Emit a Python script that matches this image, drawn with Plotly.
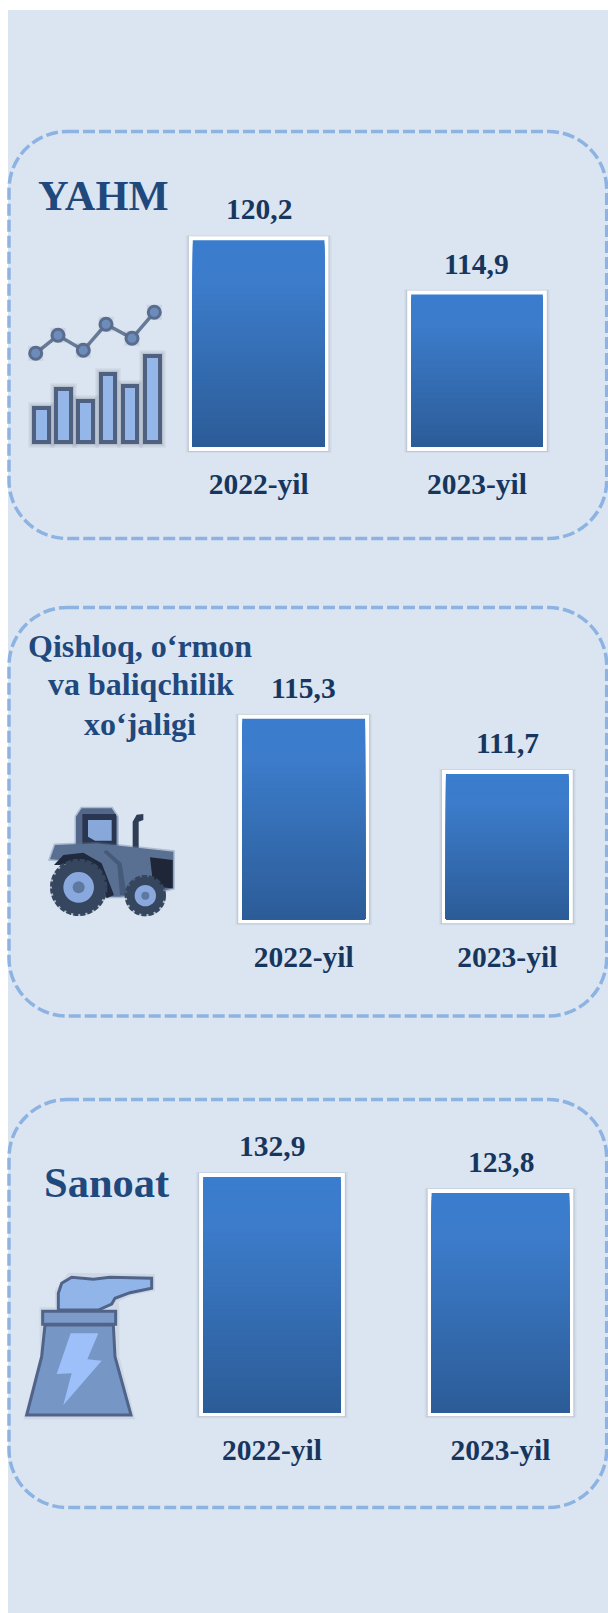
import plotly.graph_objects as go

# ---- data ----
years = ["2022-yil", "2023-yil"]
yahm_values = [120.2, 114.9]
qishloq_values = [115.3, 111.7]
sanoat_values = [132.9, 123.8]
yahm_title = ["YAHM"]
qishloq_title = ["Qishloq, o‘rmon", "va baliqchilik", "xo‘jaligi"]
sanoat_title = ["Sanoat"]

W, H = 608, 1613
FONT = "Liberation Serif"
DARK = "#17365D"
TITLE = "#1F497D"


def X(px):
    return px / W


def Y(py):
    return 1 - py / H


def path(cmds):
    out = []
    for c in cmds:
        if isinstance(c, str):
            out.append(c)
        else:
            out.append(f"{X(c[0]):.5f},{Y(c[1]):.5f}")
    return " ".join(out)


panels = [
    dict(v=yahm_values, s="", c0=258.65, sep=218.35, y0=447.0, k=10.23, lo=100.0, hi=122.0, rr=1.45),
    dict(v=qishloq_values, s="2", c0=303.65, sep=203.7, y0=919.3, k=15.36, lo=102.24, hi=117.0, rr=1.4),
    dict(v=sanoat_values, s="3", c0=272.0, sep=228.5, y0=1412.3, k=1.7705, lo=0.0, hi=140.0, rr=1.4),
]

STOPS = [(0.0, (58, 124, 205)), (0.2, (60, 124, 203)), (1.0, (44, 92, 152))]


def grad(t):
    for (a, ca), (b, cb) in zip(STOPS, STOPS[1:]):
        if t <= b:
            f = (t - a) / (b - a)
            return "rgb(%d,%d,%d)" % tuple(round(p + (q - p) * f) for p, q in zip(ca, cb))
    return "rgb(44,92,152)"


fig = go.Figure()
BAR_W = 0.603
N = 64
PAD = 8  # pixels of axis below the bars' base, so the white frame has room
annotations = []
layout_axes = {}

for p in panels:
    s, lo, vals, k, sep = p["s"], p["lo"], p["v"], p["k"], p["sep"]
    lens = [v - lo for v in vals]
    xa, ya = "x" + s, "y" + s
    common = dict(x=years, xaxis=xa, yaxis=ya, showlegend=False, hoverinfo="skip", cliponaxis=False)
    # soft shadow, then white frame; both are the value's bar grown by a few pixels
    for grow_w, grow_b, grow_t, col in ((14, 6, 5, "rgba(70,80,100,0.05)"),
                                        (11, 5, 4.5, "rgba(70,80,100,0.09)"),
                                        (9, 4.5, 4, "rgba(70,80,100,0.14)"),
                                        (8, 4, 4, "white")):
        fig.add_trace(go.Bar(y=[l + (grow_b + grow_t) / k for l in lens], base=[lo - grow_b / k] * 2,
                             width=BAR_W + grow_w / sep, marker=dict(color=col, line=dict(width=0)), **common))
    # vertical gradient: painted from the top colour down, each layer shorter
    for i in range(N):
        frac = 1 - i / N
        fig.add_trace(go.Bar(y=[l * frac for l in lens], base=[lo, lo], width=BAR_W,
                             marker=dict(color=grad((i + 0.5) / N), line=dict(width=0)), **common))
    left = p["c0"] - sep / 2
    right = p["c0"] + sep * p["rr"]
    top = p["y0"] - (p["hi"] - lo) * k
    layout_axes["xaxis" + s] = dict(domain=[X(left), min(1, X(right))], range=[-0.5, p["rr"]], type="category",
                                    categoryorder="array", categoryarray=years, anchor=ya,
                                    showgrid=False, zeroline=False, showline=False,
                                    ticks="outside", ticklen=3, tickcolor="rgba(0,0,0,0)",
                                    tickfont=dict(family=FONT, size=29.5, color=DARK, weight=700))
    layout_axes["yaxis" + s] = dict(domain=[Y(p["y0"] + PAD), Y(top)], range=[lo - PAD / k, p["hi"]], anchor=xa,
                                    showgrid=False, zeroline=False, showline=False, showticklabels=False,
                                    ticks="")
    for yr, v in zip(years, vals):
        annotations.append(dict(x=yr, y=v, xref=xa, yref=ya, text=f"{v:.1f}".replace(".", ","),
                                showarrow=False, yanchor="bottom", yshift=13,
                                font=dict(family=FONT, size=29.5, color=DARK, weight=700)))


def title_note(text, cx, baseline, size):
    annotations.append(dict(x=X(cx), y=Y(baseline + 0.216 * size + 1), xref="paper", yref="paper", text=text,
                            showarrow=False, xanchor="center", yanchor="bottom",
                            font=dict(family=FONT, size=size, color=TITLE, weight=700)))


title_note(yahm_title[0], 103.8, 210.7, 42.5)
title_note(sanoat_title[0], 106.3, 1198, 42.5)
for t, cx, b in zip(qishloq_title, (139.5, 140.5, 140), (658, 696.5, 736)):
    title_note(t, cx, b, 32)

shapes = [dict(type="rect", xref="paper", yref="paper", x0=X(8), x1=1, y0=0, y1=Y(10),
               fillcolor="#DBE5F1", line=dict(width=0), layer="below")]


def rbox(x0, y0, x1, y1, r=58):
    k = r * 0.45
    return path(["M", (x0 + r, y0), "L", (x1 - r, y0), "C", (x1 - k, y0), ",", (x1, y0 + k), ",", (x1, y0 + r),
                 "L", (x1, y1 - r), "C", (x1, y1 - k), ",", (x1 - k, y1), ",", (x1 - r, y1),
                 "L", (x0 + r, y1), "C", (x0 + k, y1), ",", (x0, y1 - k), ",", (x0, y1 - r),
                 "L", (x0, y0 + r), "C", (x0, y0 + k), ",", (x0 + k, y0), ",", (x0 + r, y0), "Z"])


for top, bot in ((131.5, 538.5), (607.5, 1016), (1099.5, 1507.5)):
    shapes.append(dict(type="path", xref="paper", yref="paper", path=rbox(9, top, 606.7, bot),
                       line=dict(color="#8DB3E2", width=3.5, dash="12px,4px"), layer="below"))


def poly(pts, fill=None, lc=None, lw=0):
    d = "M " + " L ".join(path([q]) for q in pts) + " Z"
    shapes.append(dict(type="path", xref="paper", yref="paper", path=d,
                       fillcolor=fill or "rgba(0,0,0,0)",
                       line=dict(color=lc or "rgba(0,0,0,0)", width=lw)))


def rect(x0, y0, x1, y1, fill, lc=None, lw=0):
    shapes.append(dict(type="rect", xref="paper", yref="paper", x0=X(x0), x1=X(x1), y0=Y(y1), y1=Y(y0),
                       fillcolor=fill, line=dict(color=lc or "rgba(0,0,0,0)", width=lw)))


def circ(cx, cy, r, fill, lc=None, lw=0, dash=None):
    line = dict(color=lc or "rgba(0,0,0,0)", width=lw)
    if dash:
        line["dash"] = dash
    shapes.append(dict(type="circle", xref="paper", yref="paper", x0=X(cx - r), x1=X(cx + r), y0=Y(cy + r),
                       y1=Y(cy - r), fillcolor=fill, line=line))


# ---- icon 1: small chart ----
icon_bars = [(32, 51, 406), (54, 73, 387), (76, 95, 399), (99, 117, 372), (121, 139, 384), (143, 162, 354)]
for g, col in ((4, "rgba(60,70,90,0.05)"), (2.5, "rgba(60,70,90,0.08)"), (1, "rgba(60,70,90,0.12)")):
    for a, b, t in icon_bars:
        rect(a - g, t - g, b + g, 444 + g, col)
for a, b, t in icon_bars:
    rect(a + 2, t + 2, b - 2, 442, "#95B6E9", "#50617F", 4)
icon_nodes = [(35.7, 353.3), (58, 335.3), (83.3, 350.3), (106, 324.3), (132, 338.3), (154.3, 312.3)]
d = "M " + " L ".join(path([q]) for q in icon_nodes)
shapes.append(dict(type="path", xref="paper", yref="paper", path=d, line=dict(color="rgba(90,110,140,0.9)", width=3.5)))
for cx, cy in icon_nodes:
    rect(cx - 7.5, cy - 7.5, cx + 7.5, cy + 7.5, "rgba(60,70,90,0.10)")
    circ(cx, cy, 6, "#6C8DBB", "#5A6C8E", 3)


# ---- icon 2: tractor ----
def T(px, py):
    return (40 + px / 3, 800 + py / 3)


def tp(*pts):
    return [T(*q) for q in pts]


poly(tp((108, 50), (125, 25), (215, 25), (232, 50), (232, 140), (108, 140)), "#52678A", "rgba(82,103,138,0.35)", 3)
poly(tp((127, 42), (228, 42), (228, 135), (127, 135)), "#2A3650")
poly(tp((144, 60), (215, 60), (215, 122), (165, 122), (144, 110)), "#88A8D9")
poly(tp((278, 145), (278, 65), (290, 44), (310, 42), (310, 60), (296, 65), (296, 145)), "#2F3C55")
poly(tp((30, 178), (45, 135), (170, 130), (280, 142), (400, 155), (400, 265), (340, 280), (240, 290),
        (180, 290), (180, 200), (130, 172), (60, 180)), "#5A7093", "rgba(90,112,147,0.35)", 3)
poly(tp((42, 195), (70, 165), (130, 158), (185, 190), (222, 285), (200, 295), (170, 215), (110, 185), (60, 195)), "#1F2A3F")
poly(tp((200, 150), (245, 190), (260, 285), (240, 285), (232, 195), (190, 155)), "#465A7A")
poly(tp((330, 172), (398, 180), (398, 265), (340, 260)), "#1E2638")
for cx, cy, r, h, c in ((116, 262, 80, 46, 18), (316, 287, 56, 32, 12)):
    x, y = T(cx, cy)
    circ(x, y, r / 3 + 2, "rgba(54,70,95,0.25)")
    circ(x, y, r / 3, "#36465F", "#36465F", 4, "5px,2px")
    circ(x, y, h / 3, "#88A8DE")
    circ(x, y, c / 3, "#5F789F")


# ---- icon 3: power plant ----
def F(px, py):
    return (px / 3, 1090 + py / 3)


def fp(*pts):
    return [F(*q) for q in pts]


poly(fp((70, 988), (120, 800), (118, 652), (165, 652), (165, 600), (205, 548), (465, 552), (465, 603), (395, 616),
        (355, 635), (358, 652), (358, 800), (406, 988)), "rgba(60,70,90,0.08)")
poly(fp((175, 660), (175, 610), (185, 580), (215, 562), (280, 568), (330, 562), (455, 565), (455, 595), (390, 608),
        (345, 625), (335, 642), (295, 660)), "#92B5E9", "#50648A", 3)
poly(fp((135, 705), (340, 705), (345, 800), (393, 975), (80, 975), (125, 800)), "#7697C6", "#50648A", 3)
poly(fp((128, 664), (347, 664), (347, 703), (128, 703)), "#7C9BC9", "#50648A", 3)
poly(fp((212, 730), (295, 730), (262, 808), (305, 812), (190, 945), (215, 850), (170, 852)), "#9DC0FB")

fig.update_layout(width=W, height=H, autosize=False, margin=dict(l=0, r=0, t=0, b=0),
                  paper_bgcolor="white", plot_bgcolor="rgba(0,0,0,0)", barmode="overlay",
                  showlegend=False, annotations=annotations, shapes=shapes, **layout_axes)

fig.write_html("out.html", config={"displayModeBar": False},
               post_script="document.body.style.margin='0';document.documentElement.style.overflow='hidden';")
